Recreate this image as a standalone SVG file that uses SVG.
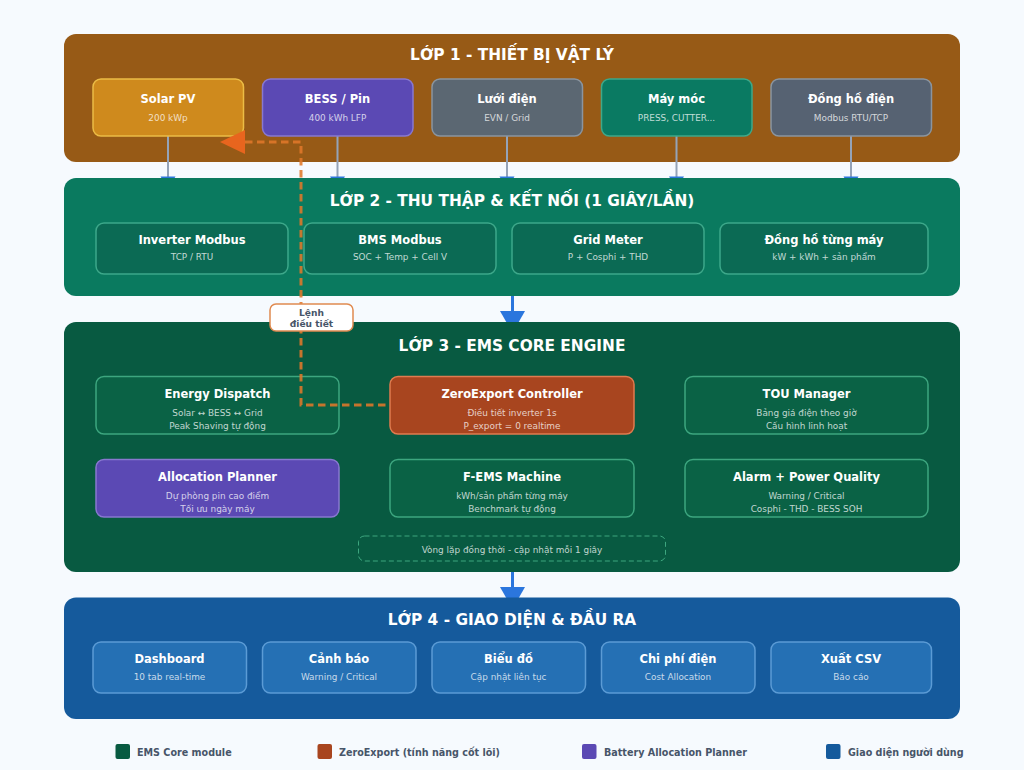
<svg xmlns="http://www.w3.org/2000/svg" width="1024" height="770" viewBox="0 0 1024 770">
<defs>
<style>
text{font-family:"DejaVu Sans",sans-serif;text-anchor:middle}
.lt{font-size:15.360px;font-weight:700;fill:#fff}
.t{font-size:11.500px;font-weight:700;fill:#fff}
.s{font-size:8.900px;fill:#fff;fill-opacity:.75}
.b{stroke-width:1.500}
.g2{fill:#0b6a54;stroke:#3da88a}
.g3{fill:#0a6245;stroke:#3da67f}
.l4{fill:#2570b4;stroke:#5b9bd5}
.leg{font-size:9.600px;font-weight:700;fill:#475569;text-anchor:start}
.stub{stroke:#94a3b8;stroke-width:2;fill:none}
.bl{fill:#2b76dd}
.bls{stroke:#2b76dd;stroke-width:3;fill:none}
</style>
</defs>
<rect width="1024" height="770" fill="#f6fafe"/>

<g id="layer1"><rect x="64" y="34" width="896" height="128" rx="12" fill="#975a16"/>
<text class="lt" x="512" y="60">LỚP 1 - THIẾT BỊ VẬT LÝ</text></g>

<g id="connectors-top">
<path class="stub" d="M168 136V178M337.500 136V178M507 136V178M676.500 136V178M851 136V178"/>
<path class="bl" d="M160.500 176.500h15l-7.500 12zM330 176.500h15l-7.500 12zM499.500 176.500h15l-7.500 12zM669 176.500h15l-7.500 12zM843.500 176.500h15l-7.500 12z"/>
</g>

<g id="layer2"><rect x="64" y="178" width="896" height="118" rx="12" fill="#0a7a5f"/>
<text class="lt" x="512" y="206">LỚP 2 - THU THẬP &amp; KẾT NỐI (1 GIÂY/LẦN)</text></g>

<g id="connector-2-3"><path class="bls" d="M512.500 296V322"/><path class="bl" d="M500 311h25l-12.500 22z"/></g>

<g id="layer3"><rect x="64" y="322" width="896" height="250" rx="12" fill="#085a41"/>
<text class="lt" x="512" y="351">LỚP 3 - EMS CORE ENGINE</text></g>

<g id="connector-3-4"><path class="bls" d="M512.500 572V598"/><path class="bl" d="M500 587h25l-12.500 22z"/></g>

<g id="layer4"><rect x="64" y="597.500" width="896" height="121.500" rx="12" fill="#155a9c"/>
<text class="lt" x="512" y="625">LỚP 4 - GIAO DIỆN &amp; ĐẦU RA</text></g>

<g id="solar"><rect class="b" x="93" y="79" width="150.500" height="57" rx="8" fill="#cf8a1d" stroke="#ecbc45"/><text class="t" x="168" y="103">Solar PV</text><text class="s" x="168" y="120.500">200 kWp</text></g>
<g id="bess"><rect class="b" x="262.500" y="79" width="150.500" height="57" rx="8" fill="#5b49b4" stroke="#8878d0"/><text class="t" x="337.500" y="103">BESS / Pin</text><text class="s" x="337.500" y="120.500">400 kWh LFP</text></g>
<g id="grid"><rect class="b" x="432" y="79" width="150.500" height="57" rx="8" fill="#5b6772" stroke="#8a95a0"/><text class="t" x="507" y="103">Lưới điện</text><text class="s" x="507" y="120.500">EVN / Grid</text></g>
<g id="machines"><rect class="b" x="601.500" y="79" width="150.500" height="57" rx="8" fill="#0a7a62" stroke="#3da88a"/><text class="t" x="676.500" y="103">Máy móc</text><text class="s" x="676.500" y="120.500">PRESS, CUTTER...</text></g>
<g id="meter"><rect class="b" x="771" y="79" width="160.500" height="57" rx="8" fill="#566272" stroke="#8a95a0"/><text class="t" x="851" y="103">Đồng hồ điện</text><text class="s" x="851" y="120.500">Modbus RTU/TCP</text></g>

<g id="inverter"><rect class="b g2" x="96" y="223" width="192" height="51" rx="8"/><text class="t" x="192" y="243.500">Inverter Modbus</text><text class="s" x="192" y="260">TCP / RTU</text></g>
<g id="bms"><rect class="b g2" x="304" y="223" width="192" height="51" rx="8"/><text class="t" x="400" y="243.500">BMS Modbus</text><text class="s" x="400" y="260">SOC + Temp + Cell V</text></g>
<g id="gridmeter"><rect class="b g2" x="512" y="223" width="192" height="51" rx="8"/><text class="t" x="608" y="243.500">Grid Meter</text><text class="s" x="608" y="260">P + Cosphi + THD</text></g>
<g id="machinemeter"><rect class="b g2" x="720" y="223" width="208" height="51" rx="8"/><text class="t" x="824" y="243.500">Đồng hồ từng máy</text><text class="s" x="824" y="260">kW + kWh + sản phẩm</text></g>

<g id="dispatch"><rect class="b g3" x="96" y="376.500" width="243" height="57.500" rx="8"/><text class="t" x="217.500" y="398">Energy Dispatch</text><text class="s" x="217.500" y="415.500">Solar ↔ BESS ↔ Grid</text><text class="s" x="217.500" y="428.500">Peak Shaving tự động</text></g>
<g id="zeroexport"><rect class="b" x="390" y="376.500" width="244" height="57.500" rx="8" fill="#a8451f" stroke="#e07b4f"/><text class="t" x="512" y="398">ZeroExport Controller</text><text class="s" x="512" y="415.500">Điều tiết inverter 1s</text><text class="s" x="512" y="428.500">P_export = 0 realtime</text></g>
<g id="tou"><rect class="b g3" x="685" y="376.500" width="243" height="57.500" rx="8"/><text class="t" x="806.500" y="398">TOU Manager</text><text class="s" x="806.500" y="415.500">Bảng giá điện theo giờ</text><text class="s" x="806.500" y="428.500">Cấu hình linh hoạt</text></g>
<g id="allocation"><rect class="b" x="96" y="459.500" width="243" height="57.500" rx="8" fill="#5b49b4" stroke="#8878d0"/><text class="t" x="217.500" y="481">Allocation Planner</text><text class="s" x="217.500" y="498.500">Dự phòng pin cao điểm</text><text class="s" x="217.500" y="511.500">Tối ưu ngày máy</text></g>
<g id="fems"><rect class="b g3" x="390" y="459.500" width="244" height="57.500" rx="8"/><text class="t" x="512" y="481">F-EMS Machine</text><text class="s" x="512" y="498.500">kWh/sản phẩm từng máy</text><text class="s" x="512" y="511.500">Benchmark tự động</text></g>
<g id="alarm"><rect class="b g3" x="685" y="459.500" width="243" height="57.500" rx="8"/><text class="t" x="806.500" y="481">Alarm + Power Quality</text><text class="s" x="806.500" y="498.500">Warning / Critical</text><text class="s" x="806.500" y="511.500">Cosphi - THD - BESS SOH</text></g>
<g id="loop"><rect x="358.500" y="536" width="307" height="25" rx="6" fill="none" stroke="#3da67f" stroke-width="1" stroke-dasharray="5 3"/><text class="s" x="512" y="552.500">Vòng lặp đồng thời - cập nhật mỗi 1 giây</text></g>

<g id="dashboard"><rect class="b l4" x="93" y="642" width="153.500" height="51" rx="8"/><text class="t" x="169.500" y="663">Dashboard</text><text class="s" x="169.500" y="680">10 tab real-time</text></g>
<g id="alerts"><rect class="b l4" x="262.500" y="642" width="153.500" height="51" rx="8"/><text class="t" x="339" y="663">Cảnh báo</text><text class="s" x="339" y="680">Warning / Critical</text></g>
<g id="charts"><rect class="b l4" x="432" y="642" width="153.500" height="51" rx="8"/><text class="t" x="508.500" y="663">Biểu đồ</text><text class="s" x="508.500" y="680">Cập nhật liên tục</text></g>
<g id="cost"><rect class="b l4" x="601.500" y="642" width="153.500" height="51" rx="8"/><text class="t" x="678" y="663">Chi phí điện</text><text class="s" x="678" y="680">Cost Allocation</text></g>
<g id="csv"><rect class="b l4" x="771" y="642" width="160.500" height="51" rx="8"/><text class="t" x="851" y="663">Xuất CSV</text><text class="s" x="851" y="680">Báo cáo</text></g>

<g id="connector-command">
<path d="M245 142H301V405H390" fill="none" stroke="#e0782a" stroke-opacity=".88" stroke-width="3" stroke-dasharray="7.500 4.500"/>
<path d="M220 142L245 130V154z" fill="#e8651e"/>
</g>
<g id="command-label"><rect x="270" y="304" width="83" height="27" rx="6" fill="#fff" stroke="#e08a50" stroke-width="1.500"/><text x="311.500" y="316" font-size="9.100" font-weight="700" fill="#475569">Lệnh</text><text x="311.500" y="326.500" font-size="9.100" font-weight="700" fill="#475569">điều tiết</text></g>

<g id="legend">
<rect x="115.500" y="744" width="14.500" height="15" rx="2" fill="#085a41"/><text class="leg" x="137" y="755.500">EMS Core module</text>
<rect x="317.500" y="744" width="14.500" height="15" rx="2" fill="#a8451f"/><text class="leg" x="339" y="755.500">ZeroExport (tính năng cốt lõi)</text>
<rect x="582" y="744" width="14.500" height="15" rx="2" fill="#5b49b4"/><text class="leg" x="604" y="755.500">Battery Allocation Planner</text>
<rect x="826" y="744" width="14.500" height="15" rx="2" fill="#155a9c"/><text class="leg" x="848" y="755.500">Giao diện người dùng</text>
</g>
</svg>
